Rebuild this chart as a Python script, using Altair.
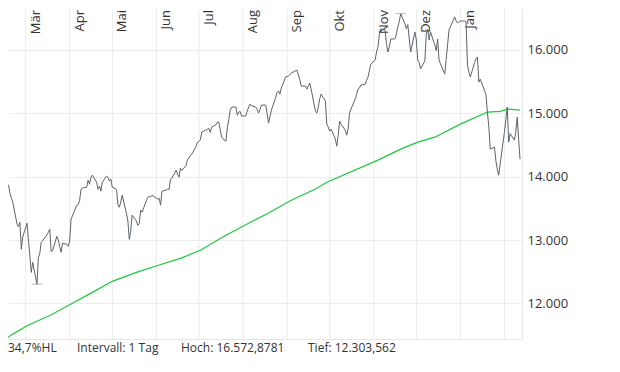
import altair as alt
import pandas as pd

# ---------------- data ----------------
holidays = ["2021-02-15", "2021-04-02", "2021-05-31", "2021-07-05",
            "2021-09-06", "2021-11-25", "2021-12-24", "2022-01-17"]

close_2021_02 = [13723, 13790, 13866, 13740, 13660, 13600, 13249, 13210, 13281, 12854, 13050]
close_2021_03 = [13265, 13000, 12760, 12490, 12648, 12303.562, 12720, 12790, 12964, 12990,
                 13080, 13123, 13170, 12820, 12830, 13059, 13000, 12900, 12806, 12950,
                 12933, 12900, 12980]
close_2021_04 = [13328, 13550, 13560, 13620, 13802, 13820, 13834, 13945, 13880, 13990,
                 14024, 13913, 13800, 13850, 13771, 13913, 14008, 13990, 13930, 13961, 13834]
close_2021_05 = [13800, 13560, 13518, 13600, 13708, 13420, 13300, 13012, 13150, 13392,
                 13300, 13233, 13260, 13470, 13440, 13620, 13676, 13690, 13680, 13708]
close_2021_06 = [13645, 13660, 13550, 13771, 13790, 13802, 13800, 13960, 13976, 14103,
                 14040, 13992, 14134, 14100, 14180, 14277, 14290, 14340, 14356, 14480,
                 14545, 14560]
close_2021_07 = [14580, 14704, 14751, 14760, 14700, 14783, 14820, 14862, 14860, 14740,
                 14620, 14557, 14780, 14900, 15051, 15099, 15100, 14972, 15020, 15030, 14957]
close_2021_08 = [14957, 15040, 15100, 15146, 15120, 15099, 15060, 15004, 15060, 15130,
                 15130, 15000, 14846, 14950, 15051, 15250, 15330, 15352, 15304, 15400,
                 15573, 15580]
close_2021_09 = [15589, 15610, 15636, 15684, 15605, 15530, 15431, 15431, 15383, 15430,
                 15478, 15380, 15030, 15004, 15100, 15230, 15304, 15194, 14830, 14783, 14719]
close_2021_10 = [14750, 14593, 14482, 14650, 14877, 14830, 14735, 14656, 14750, 15000,
                 15067, 15225, 15300, 15383, 15400, 15447, 15460, 15520, 15573, 15680, 15779]
close_2021_11 = [15842, 15968, 16050, 16250, 16332, 16316, 16100, 15968, 16050, 16174,
                 16174, 16253, 16364, 16450, 16572.8781, 16411, 16332, 16400, 15968,
                 16285, 16158]
close_2021_12 = [15842, 15800, 15700, 15830, 16250, 16332, 16158, 16285, 16079, 15990,
                 16174, 15842, 15780, 15621, 15850, 16079, 16316, 16522, 16460, 16427,
                 16440, 16458]
close_2022_01 = [16458, 16443, 15763, 15650, 15573, 15800, 15860, 15889, 15494, 15540,
                 15300, 15020, 14800, 14435, 14466, 14250, 14119, 14024, 14200, 14700]
close_2022_02 = [14900, 15099, 14545, 14680, 14577, 14700, 14941, 14593, 14277]

sma_dates = ["2021-02-11", "2021-02-19", "2021-03-01", "2021-03-17", "2021-04-01",
             "2021-04-16", "2021-04-30", "2021-05-17", "2021-06-02", "2021-06-17",
             "2021-07-01", "2021-07-19", "2021-08-03", "2021-08-18", "2021-09-03",
             "2021-09-20", "2021-09-28", "2021-11-03", "2021-11-19", "2021-12-01",
             "2021-12-13", "2021-12-31", "2022-01-19", "2022-01-28", "2022-02-02",
             "2022-02-11"]
sma_values = [11394, 11515, 11647, 11810, 11989, 12174, 12348, 12490, 12606, 12711,
              12838, 13075, 13254, 13428, 13628, 13807, 13913, 14261, 14435, 14545,
              14624, 14830, 15020, 15030, 15067, 15051]

month_starts = ["2021-03-01", "2021-04-01", "2021-05-01", "2021-06-01", "2021-07-01",
                "2021-08-01", "2021-09-01", "2021-10-01", "2021-11-01", "2021-12-01",
                "2022-01-01", "2022-02-01"]
month_names = ["Mär", "Apr", "Mai", "Jun", "Jul", "Aug", "Sep", "Okt", "Nov", "Dez", "Jan"]

y_ticks = [12000, 13000, 14000, 15000, 16000]
footer = ["34,7%HL", "Intervall: 1 Tag", "Hoch: 16.572,8781", "Tief: 12.303,562"]

# ---------------- tables ----------------
days = pd.bdate_range("2021-02-11", "2022-02-11")
days = days[~days.isin(pd.to_datetime(holidays))]
closes = (close_2021_02 + close_2021_03 + close_2021_04 + close_2021_05 + close_2021_06
          + close_2021_07 + close_2021_08 + close_2021_09 + close_2021_10 + close_2021_11
          + close_2021_12 + close_2022_01 + close_2022_02)
assert len(days) == len(closes), (len(days), len(closes))
price = pd.DataFrame({"date": days + pd.Timedelta(hours=22), "value": closes})
sma = pd.DataFrame({"date": pd.to_datetime(sma_dates) + pd.Timedelta(hours=22),
                    "value": sma_values})
extremes = price.loc[[price["value"].idxmax(), price["value"].idxmin()]]
grid = pd.DataFrame({"date": pd.to_datetime(month_starts)})
labels = pd.DataFrame({"date": pd.to_datetime(month_starts[:len(month_names)]),
                       "name": month_names})
one_row = pd.DataFrame({"k": [0]})

W, H = 514, 330
FONT = "Open Sans"

xscale = alt.Scale(domain=[alt.DateTime(year=2021, month=2, date=16, hours=13),
                           alt.DateTime(year=2022, month=2, date=13, hours=7)])
yscale = alt.Scale(domain=[11438, 16647], nice=False, zero=False)
xenc = alt.X("date:T", scale=xscale,
             axis=alt.Axis(labels=False, ticks=False, grid=False, domain=True,
                           domainColor="#e6e6e6", title=None))
yenc = alt.Y("value:Q", scale=yscale,
             axis=alt.Axis(orient="right", values=y_ticks, grid=True, gridColor="#ececec",
                           domain=True, domainColor="#e6e6e6", ticks=False,
                           labelFont=FONT, labelFontSize=13, labelColor="#333333",
                           labelPadding=5, format=",d",
                           labelExpr="replace(datum.label, ',', '.')", title=None))

vgrid = alt.Chart(grid).mark_rule(color="#ececec", strokeWidth=1).encode(x=xenc)
mlabels = alt.Chart(labels).mark_text(
    angle=270, align="right", baseline="alphabetic", dy=14, dx=-1,
    font=FONT, fontSize=13, color="#333333"
).encode(x=xenc, y=alt.value(0), text="name:N")
sma_line = alt.Chart(sma).mark_line(color="#1fc83a", strokeWidth=1.2, clip=True).encode(x=xenc, y=yenc)
price_line = alt.Chart(price).mark_line(color="#5c636a", strokeWidth=1, clip=True).encode(x=xenc, y=yenc)
marks = alt.Chart(extremes).mark_tick(orient="horizontal", size=11, thickness=1,
                                      color="#999999").encode(x=xenc, y=yenc)

foot_x = [0, 69, 173, 300]
foot_layers = [
    alt.Chart(one_row).mark_text(align="left", baseline="middle", font=FONT, fontSize=12,
                                 color="#333333").encode(
        x=alt.value(fx), y=alt.value(H + 9), text=alt.value(t))
    for fx, t in zip(foot_x, footer)
]

chart = alt.layer(vgrid, mlabels, sma_line, price_line, marks, *foot_layers).properties(
    width=W, height=H, padding={"left": 0, "top": 0, "right": 2, "bottom": 2}
).configure_view(stroke=None)

chart.save("out.html", embed_options={"renderer": "svg", "actions": False})
